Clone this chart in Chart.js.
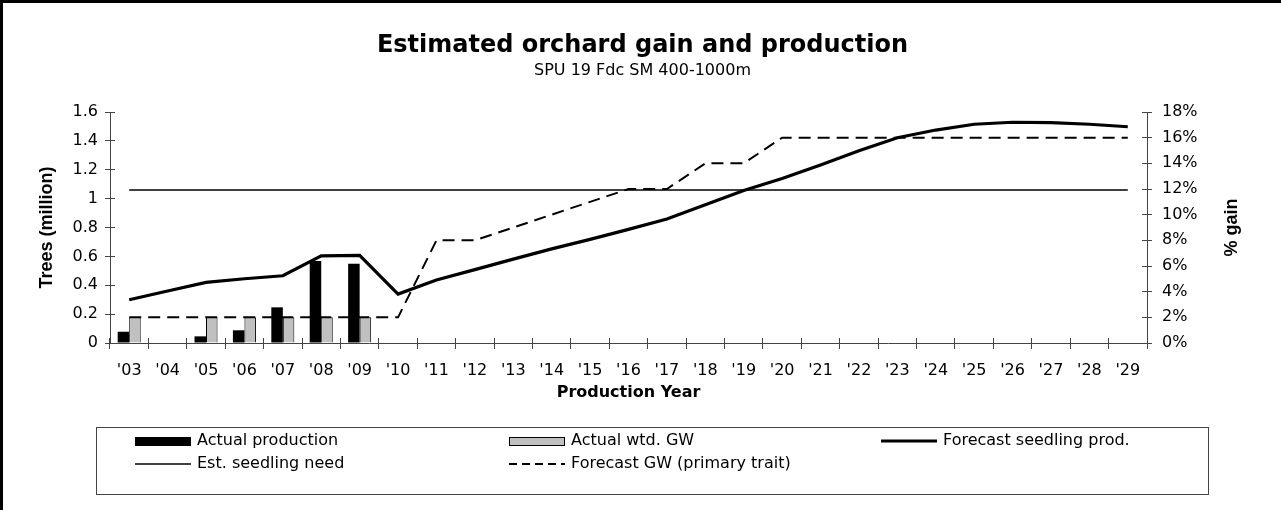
<!DOCTYPE html>
<html lang="en">

<head>
  <meta charset="UTF-8">
  <title>Estimated orchard gain and production</title>
  <script src="https://cdn.jsdelivr.net/npm/chart.js"></script>
  <style>
    body { margin: 0; background: #fff; }
  </style>
</head>

<body>
  <canvas id="gainChart" width="1281" height="510"></canvas>

  <script>
    // data
    const years = ["'03", "'04", "'05", "'06", "'07", "'08", "'09", "'10", "'11", "'12", "'13", "'14", "'15", "'16",
      "'17", "'18", "'19", "'20", "'21", "'22", "'23", "'24", "'25", "'26", "'27", "'28", "'29"];

    // trees (million), left axis
    const actualProduction = [0.078, null, 0.046, 0.088, 0.247, 0.568, 0.549, null, null, null, null, null, null, null,
      null, null, null, null, null, null, null, null, null, null, null, null, null];
    const forecastSeedlingProd = [0.30, 0.36, 0.42, 0.445, 0.466, 0.603, 0.607, 0.339, 0.436, 0.508, 0.581, 0.652, 0.718, 0.787,
      0.859, 0.958, 1.057, 1.14, 1.233, 1.332, 1.422, 1.475, 1.515, 1.529, 1.526, 1.515, 1.498];
    const estSeedlingNeed = [1.06, 1.06, 1.06, 1.06, 1.06, 1.06, 1.06, 1.06, 1.06, 1.06, 1.06, 1.06, 1.06, 1.06,
      1.06, 1.06, 1.06, 1.06, 1.06, 1.06, 1.06, 1.06, 1.06, 1.06, 1.06, 1.06, 1.06];

    // % gain, right axis
    const actualWtdGW = [2, null, 2, 2, 2, 2, 2, null, null, null, null, null, null, null,
      null, null, null, null, null, null, null, null, null, null, null, null, null];
    const forecastGW = [2, 2, 2, 2, 2, 2, 2, 2, 8, 8, 9, 10, 11, 12,
      12, 14, 14, 16, 16, 16, 16, 16, 16, 16, 16, 16, 16];

    const leftTickLabels = ['0', '0.2', '0.4', '0.6', '0.8', '1', '1.2', '1.4', '1.6'];
    const rightTickLabels = ['0%', '2%', '4%', '6%', '8%', '10%', '12%', '14%', '16%', '18%'];

    const FONT = 'DejaVu Sans';
    const AXIS = '#444';

    // black frame on the left and top edges
    const frame = {
      id: 'frame',
      beforeDraw(chart) {
        const ctx = chart.ctx;
        ctx.save();
        ctx.fillStyle = '#fff';
        ctx.fillRect(0, 0, chart.width, chart.height);
        ctx.fillStyle = '#000';
        ctx.fillRect(0, 0, 3, chart.height);
        ctx.fillRect(0, 0, chart.width, 3);
        ctx.restore();
      }
    };

    // excel style ticks cross the axis line, add the inner half
    const crossTicks = {
      id: 'crossTicks',
      afterDraw(chart) {
        const { ctx, chartArea: a } = chart;
        ctx.save();
        ctx.strokeStyle = AXIS;
        ctx.lineWidth = 1;
        ctx.beginPath();
        (chart.scales.x._gridLineItems || []).forEach(g => { ctx.moveTo(g.tx1, a.bottom); ctx.lineTo(g.tx1, a.bottom - 5); });
        (chart.scales.y._gridLineItems || []).forEach(g => { ctx.moveTo(a.left, g.ty1); ctx.lineTo(a.left + 5, g.ty1); });
        (chart.scales.y1._gridLineItems || []).forEach(g => { ctx.moveTo(a.right, g.ty1); ctx.lineTo(a.right - 5, g.ty1); });
        ctx.stroke();
        ctx.restore();
      }
    };

    // right axis title reads bottom-to-top
    const rightTitle = {
      id: 'rightTitle',
      afterDraw(chart) {
        const s = chart.scales.y1;
        const a = chart.chartArea;
        const ctx = chart.ctx;
        ctx.save();
        ctx.translate(s.right - 49, (a.top + a.bottom) / 2);
        ctx.rotate(-Math.PI / 2);
        ctx.font = 'bold 18px "Liberation Sans"';
        ctx.fillStyle = '#000';
        ctx.textAlign = 'center';
        ctx.textBaseline = 'middle';
        ctx.fillText(s.options.title.text, 0, 0);
        ctx.restore();
      }
    };

    // boxed legend, 3 columns x 2 rows
    const legendOrder = [3, 4, 0, 1, 2];
    const boxLegend = {
      id: 'boxLegend',
      afterDraw(chart) {
        const ctx = chart.ctx;
        const cols = [135, 509, 881];
        const rows = [441, 464];
        ctx.save();
        ctx.strokeStyle = '#444';
        ctx.lineWidth = 1;
        ctx.strokeRect(96.5, 427.5, 1112, 67);
        ctx.font = '16px "' + FONT + '"';
        ctx.textBaseline = 'middle';
        ctx.fillStyle = '#000';
        legendOrder.forEach((di, k) => {
          const ds = chart.data.datasets[di];
          const x = cols[k % 3];
          const y = rows[Math.floor(k / 3)];
          if (ds.type === 'bar') {
            ctx.fillStyle = ds.backgroundColor;
            ctx.fillRect(x, y - 4, 56, 9);
            if (ds.borderWidth) {
              ctx.strokeStyle = '#000';
              ctx.strokeRect(x + 0.5, y - 3.5, 55, 8);
            }
          } else {
            ctx.strokeStyle = ds.borderColor;
            ctx.lineWidth = ds.borderWidth;
            ctx.setLineDash(ds.borderDash ? [8, 5] : []);
            ctx.beginPath();
            ctx.moveTo(x, y);
            ctx.lineTo(x + 56, y);
            ctx.stroke();
            ctx.setLineDash([]);
          }
          ctx.fillStyle = '#000';
          ctx.fillText(ds.label, x + 62, y);
        });
        ctx.restore();
      }
    };

    const ctx = document.getElementById('gainChart').getContext('2d');
    new Chart(ctx, {
      type: 'bar',
      data: {
        labels: years,
        datasets: [
          {
            type: 'line', label: 'Forecast seedling prod.', data: forecastSeedlingProd, yAxisID: 'y',
            borderColor: '#000', borderWidth: 3.2, pointRadius: 0, tension: 0, order: 0
          },
          {
            type: 'line', label: 'Est. seedling need', data: estSeedlingNeed, yAxisID: 'y',
            borderColor: '#000', borderWidth: 1.5, pointRadius: 0, order: 0
          },
          {
            type: 'line', label: 'Forecast GW (primary trait)', data: forecastGW, yAxisID: 'y1',
            borderColor: '#000', borderWidth: 2, borderDash: [12, 7], pointRadius: 0, order: 0
          },
          {
            type: 'bar', label: 'Actual production', data: actualProduction, yAxisID: 'y',
            backgroundColor: '#000', borderWidth: 0, order: 1
          },
          {
            type: 'bar', label: 'Actual wtd. GW', data: actualWtdGW, yAxisID: 'y1',
            backgroundColor: '#c0c0c0', borderColor: '#000', borderWidth: 1, order: 1
          }
        ]
      },
      options: {
        responsive: false,
        animation: false,
        layout: { padding: { left: 4, top: 4, right: 0, bottom: 108 } },
        datasets: { bar: { categoryPercentage: 0.6, barPercentage: 1.0 } },
        plugins: {
          legend: { display: false },
          tooltip: { enabled: false },
          title: {
            display: true, text: 'Estimated orchard gain and production', color: '#000',
            font: { family: FONT, size: 24, weight: 'bold' }, padding: { top: 27, bottom: 0 }
          },
          subtitle: {
            display: true, text: 'SPU 19 Fdc SM 400-1000m', color: '#000',
            font: { family: FONT, size: 16 }, padding: { top: 1, bottom: 32 }
          }
        },
        scales: {
          x: {
            offset: true,
            grid: { offset: true, drawOnChartArea: false, tickLength: 6, color: AXIS },
            border: { color: AXIS },
            ticks: { color: '#000', font: { family: FONT, size: 16 }, padding: 12, autoSkip: false, maxRotation: 0 },
            title: {
              display: true, text: 'Production Year', color: '#000',
              font: { family: FONT, size: 16, weight: 'bold' }, padding: { top: 0, bottom: 0 }
            },
            afterFit(s) { s.height = 59; }
          },
          y: {
            position: 'left', min: 0, max: 1.6,
            grid: { drawOnChartArea: false, tickLength: 5, color: AXIS },
            border: { color: AXIS },
            ticks: {
              stepSize: 0.2, color: '#000', font: { family: FONT, size: 16 }, padding: 7,
              callback: (v, i) => leftTickLabels[i]
            },
            title: {
              display: true, text: 'Trees (million)', color: '#000',
              font: { family: 'Liberation Sans', size: 18, weight: 'bold' }, padding: { top: 32, bottom: 0 }
            },
            afterFit(s) { s.width = 106; }
          },
          y1: {
            position: 'right', min: 0, max: 18,
            grid: { drawOnChartArea: false, tickLength: 5, color: AXIS },
            border: { color: AXIS },
            ticks: {
              stepSize: 2, color: '#000', font: { family: FONT, size: 16 }, padding: 10,
              callback: (v, i) => rightTickLabels[i]
            },
            title: { display: false, text: '% gain' },
            afterFit(s) { s.width = 134; }
          }
        }
      },
      plugins: [frame, crossTicks, rightTitle, boxLegend]
    });
  </script>
</body>

</html>
